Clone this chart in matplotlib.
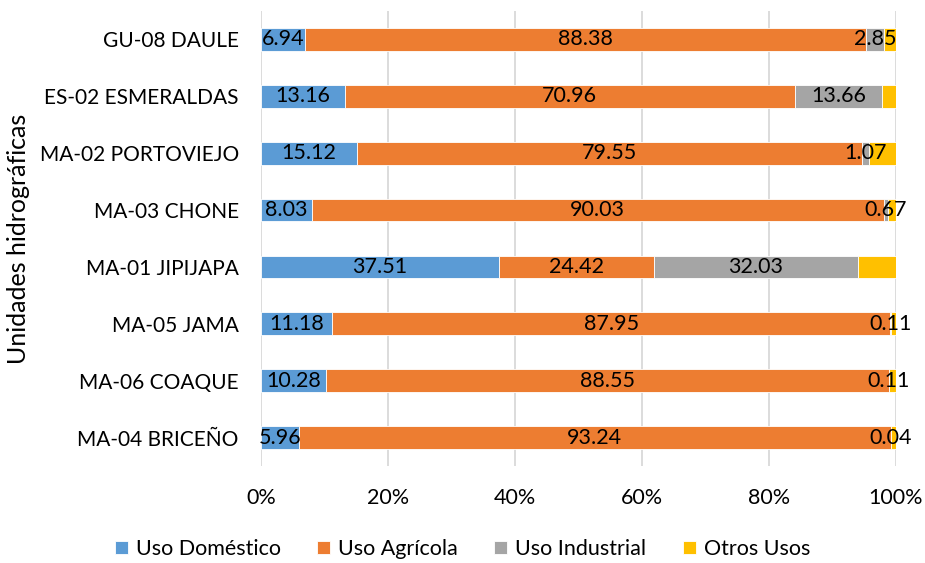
import matplotlib
matplotlib.use("Agg")
import matplotlib.pyplot as plt
import numpy as np
from matplotlib.ticker import FuncFormatter

plt.rcParams['font.family'] = ['Lato', 'DejaVu Sans']

categories = ["GU-08 DAULE", "ES-02 ESMERALDAS", "MA-02 PORTOVIEJO", "MA-03 CHONE",
              "MA-01 JIPIJAPA", "MA-05 JAMA", "MA-06 COAQUE", "MA-04 BRICEÑO"]
domestico = [6.94, 13.16, 15.12, 8.03, 37.51, 11.18, 10.28, 5.96]
agricola = [88.38, 70.96, 79.55, 90.03, 24.42, 87.95, 88.55, 93.24]
industrial = [2.85, 13.66, 1.07, 0.67, 32.03, 0.11, 0.11, 0.04]
otros = [1.83, 2.22, 4.26, 1.27, 6.04, 0.76, 1.06, 0.76]

series = [("Uso Doméstico", domestico, "#5B9BD5", True),
          ("Uso Agrícola", agricola, "#ED7D31", True),
          ("Uso Industrial", industrial, "#A5A5A5", True),
          ("Otros Usos", otros, "#FFC000", False)]

FS = 15.5

fig = plt.figure(figsize=(9.25, 5.63), dpi=100)
ax = fig.add_axes([261/925, 1-466/563, 635/925, 455/563])

y = np.arange(len(categories))
left = np.zeros(len(categories))
for name, vals, color, lab in series:
    vals = np.array(vals)
    bars = ax.barh(y, vals, left=left, height=0.4, color=color, label=name,
                   edgecolor="white", linewidth=0.6, zorder=3)
    if lab:
        ax.bar_label(bars, labels=[f"{v:.2f}" for v in vals], label_type="center",
                     fontsize=FS, color="black", zorder=5)
    left += vals

ax.set_xlim(0, 100)
ax.set_ylim(len(categories) - 0.5, -0.5)
ax.set_yticks(y)
ax.set_yticklabels(categories, fontsize=15)
ax.set_xticks(np.arange(0, 101, 20))
ax.xaxis.set_major_formatter(FuncFormatter(lambda v, p: f"{int(v)}%"))
ax.tick_params(axis='x', labelsize=FS, length=0, pad=16)
ax.tick_params(axis='y', length=0, pad=16)
ax.grid(axis='x', color="#D9D9D9", linewidth=1.3, zorder=0)
for s in ax.spines.values():
    s.set_visible(False)
ax.set_ylabel("Unidades hidrográficas", fontsize=18, va="center")
ax.yaxis.set_label_coords(-0.382, 0.5)

fig.legend(loc="center", bbox_to_anchor=(0.5, 14/563), ncol=4, frameon=False,
           fontsize=FS, handlelength=0.6, handleheight=0.6, handletextpad=0.37,
           columnspacing=1.7)

fig.savefig("out.png", dpi=100)
